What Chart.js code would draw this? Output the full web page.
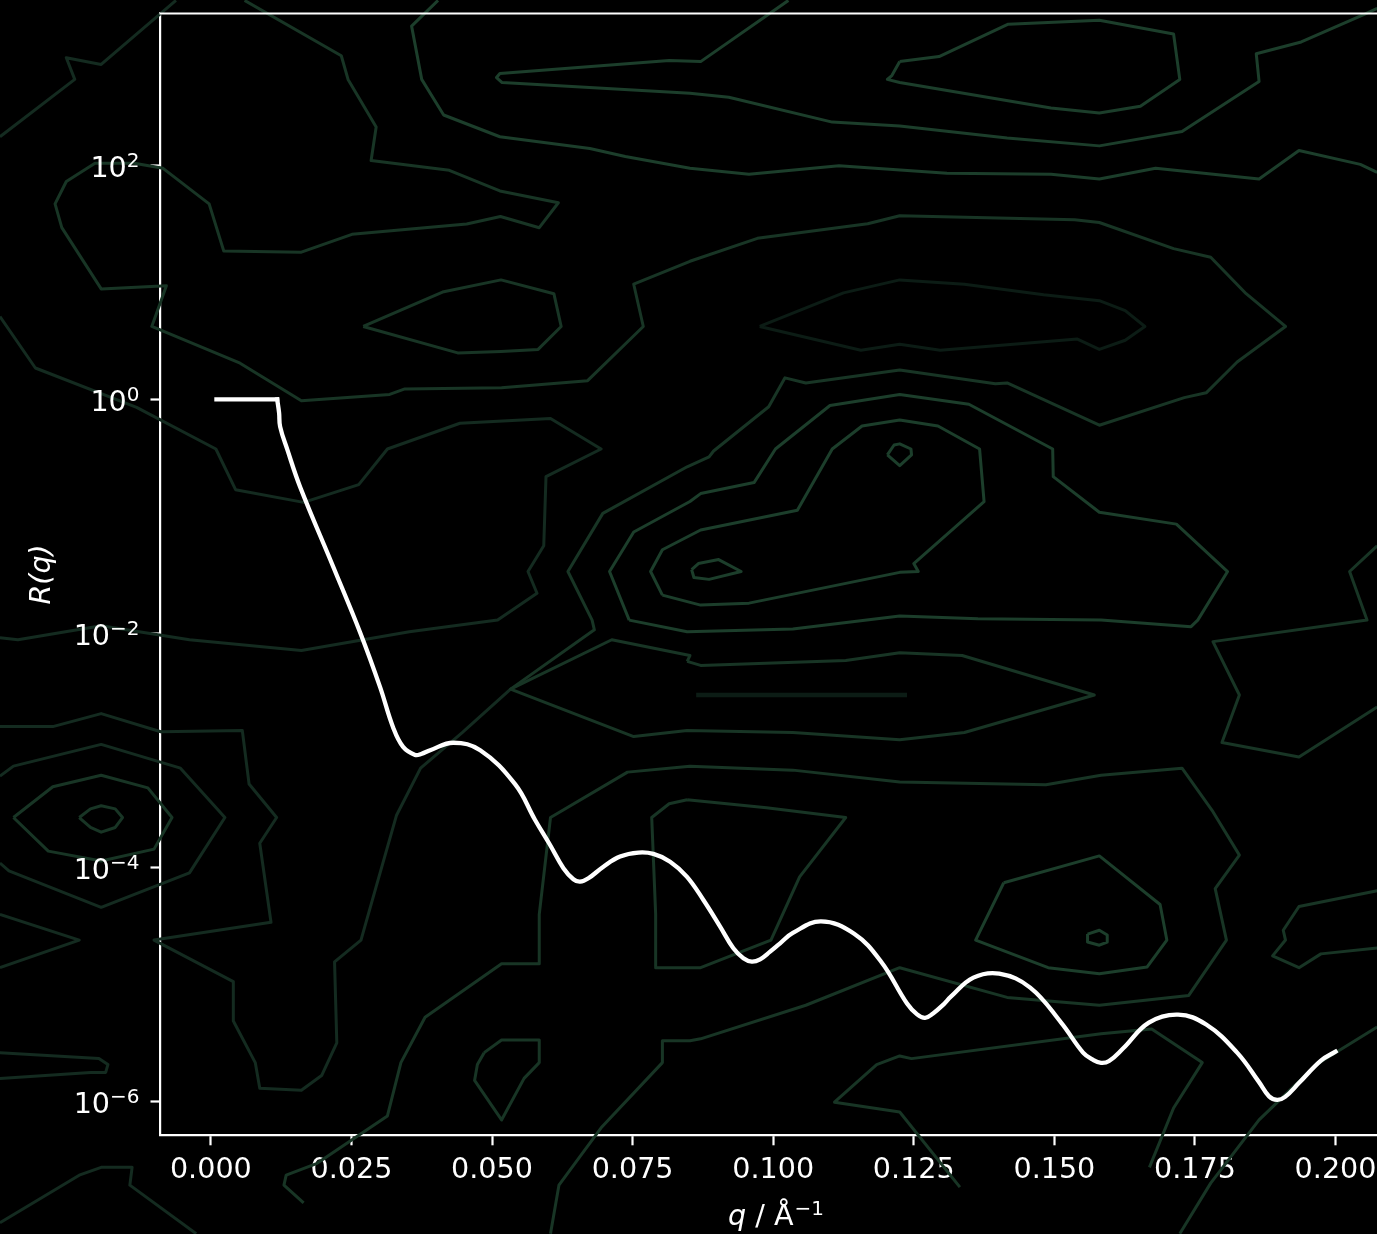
<!DOCTYPE html>
<html>
<head>
<meta charset="utf-8">
<script src="https://cdn.jsdelivr.net/npm/chart.js@4.4.1/dist/chart.umd.min.js"></script>
<style>
  html, body { margin: 0; padding: 0; background: #000; overflow: hidden; }
  canvas { display: block; }
</style>
</head>
<body>
<canvas id="chart" width="1420" height="1234"></canvas>
<script>
// reflectivity curve, q in 1/Å
const qValues = [0.001, 0.004, 0.008, 0.0118, 0.01214, 0.01232, 0.01362, 0.01588,
  0.0218, 0.0266, 0.0301, 0.0324, 0.03419, 0.03633, 0.03740, 0.0390, 0.0431,
  0.0479, 0.0541, 0.05766, 0.06033, 0.06270, 0.06447, 0.06566, 0.06714, 0.06981, 0.07278,
  0.07603, 0.07870, 0.08167, 0.08464, 0.08759, 0.09056, 0.09292, 0.09470, 0.09620, 0.09767,
  0.09945, 0.10123, 0.1035, 0.1085, 0.1144, 0.1192, 0.1238, 0.12559, 0.12701, 0.12843,
  0.13021, 0.13164, 0.1356, 0.1402, 0.1457, 0.1512, 0.1551, 0.15689, 0.15831, 0.15973,
  0.1622, 0.1668, 0.1720, 0.1770, 0.1825, 0.1864, 0.18818, 0.18961, 0.19103, 0.19352,
  0.1974, 0.2000];
const rValues = [1, 1, 1, 1, 0.765, 0.585, 0.370, 0.1786,
  0.0368, 0.01005, 0.00348, 0.00158, 1.072e-3, 9.16e-4, 9.33e-4, 1.005e-3, 1.164e-3,
  1.005e-3, 5.15e-4, 2.547e-4, 1.556e-4, 9.86e-5, 7.94e-5, 7.57e-5, 8.09e-5, 1.016e-4, 1.239e-4,
  1.340e-4, 1.306e-4, 1.122e-4, 8.36e-5, 5.28e-5, 3.13e-5, 2.04e-5, 1.679e-5, 1.570e-5, 1.644e-5,
  1.910e-5, 2.25e-5, 2.76e-5, 3.47e-5, 2.72e-5, 1.567e-5, 6.89e-6, 5.56e-6, 5.19e-6, 5.66e-6,
  6.70e-6, 7.91e-6, 1.146e-5, 1.239e-5, 9.42e-6, 4.73e-6, 2.62e-6, 2.27e-6, 2.14e-6, 2.22e-6,
  2.84e-6, 4.73e-6, 5.53e-6, 4.55e-6, 2.62e-6, 1.466e-6, 1.107e-6, 1.033e-6, 1.096e-6, 1.445e-6,
  2.24e-6, 2.67e-6];
const plateauEnd = 3; // index of the critical edge

const xTicks = [0, 0.025, 0.05, 0.075, 0.1, 0.125, 0.15, 0.175, 0.2];
const yTickExponents = [-6, -4, -2, 0, 2];
const xTitleParts = ["q", " / Å", "−1"];
const yTitle = "R(q)";

// background contour lines, [q, log10 R]
const contourA = [[-0.0375,2.244],[-0.0242,2.734],[-0.0257,2.919],[-0.0195,2.862],[-0.0062,3.409]];
const contourB = [[0.0060,3.409],[0.0232,2.936],[0.0244,2.734],[0.0294,2.328],[0.0285,2.041],[0.0424,1.957],[0.0514,1.781],[0.0618,1.680],[0.0584,1.467],[0.0515,1.562],[0.0455,1.498],[0.0251,1.410],[0.0161,1.258],[0.0023,1.268],[-0.0003,1.670],[-0.0085,1.974],[-0.0136,2.018],[-0.0206,2.018],[-0.0257,1.862],[-0.0277,1.670],[-0.0265,1.467],[-0.0195,0.944],[-0.0079,0.971],[-0.0105,0.623],[0.0052,0.309],[0.0161,-0.012],[0.0318,0.042],[0.0345,0.089],[0.0517,0.100],[0.0670,0.160],[0.0769,0.623],[0.0752,0.984],[0.0852,1.180],[0.0972,1.376],[0.1168,1.501],[0.1225,1.569],[0.1536,1.535],[0.1580,1.511],[0.1712,1.288],[0.1778,1.214],[0.1841,0.903],[0.1911,0.623],[0.1825,0.319],[0.1770,0.056],[0.1731,0.015],[0.1580,-0.221],[0.1416,0.140],[0.1395,0.133],[0.1225,0.251],[0.1058,0.140],[0.1021,0.184],[0.0992,-0.063],[0.0894,-0.441],[0.0886,-0.492],[0.0847,-0.576],[0.0697,-0.974],[0.0635,-1.471],[0.0678,-1.886],[0.0682,-1.969],[0.0533,-2.476]];
const contourWedge = [[0.1027,3.409],[0.0871,2.886],[0.0815,2.896],[0.0514,2.784],[0.0508,2.750],[0.0518,2.707],[0.0852,2.615],[0.0921,2.582],[0.1105,2.369],[0.1225,2.335],[0.1416,2.234],[0.1580,2.166],[0.1727,2.288],[0.1864,2.717],[0.1859,2.953],[0.1939,3.054],[0.2052,3.291],[0.2074,3.341]];
const contourRidge = [[0.0404,3.409],[0.0357,3.189],[0.0375,2.734],[0.0414,2.430],[0.0514,2.244],[0.0674,2.143],[0.0737,2.075],[0.0852,1.974],[0.0957,1.923],[0.1117,1.997],[0.1309,1.933],[0.1494,1.923],[0.1580,1.883],[0.1680,1.974],[0.1864,1.883],[0.1935,2.126],[0.2044,2.008],[0.2074,1.940]];
const contourTopLoop = [[0.1225,2.886],[0.1295,2.929],[0.1418,3.206],[0.1580,3.240],[0.1712,3.122],[0.1723,2.734],[0.1653,2.504],[0.1580,2.447],[0.1494,2.490],[0.1225,2.707],[0.1203,2.734],[0.1211,2.767],[0.1225,2.886]];
const contourLensLeft = [[0.0271,0.623],[0.0412,0.917],[0.0516,1.021],[0.0610,0.903],[0.0623,0.623],[0.0582,0.427],[0.0516,0.410],[0.0439,0.397],[0.0271,0.623]];
const contourLensMid = [[0.0976,0.623],[0.1125,0.910],[0.1225,1.021],[0.1340,0.984],[0.1481,0.893],[0.1580,0.843],[0.1626,0.758],[0.1661,0.623],[0.1626,0.505],[0.1580,0.427],[0.1541,0.515],[0.1297,0.420],[0.1225,0.471],[0.1156,0.420],[0.0976,0.623]];
const contourRing2 = [[0.0744,-1.886],[0.0709,-1.471],[0.0752,-1.133],[0.0852,-0.873],[0.0871,-0.805],[0.0966,-0.711],[0.1004,-0.424],[0.1101,-0.052],[0.1225,0.042],[0.1348,-0.042],[0.1497,-0.424],[0.1498,-0.660],[0.1580,-0.964],[0.1717,-1.066],[0.1808,-1.471],[0.1755,-1.886],[0.1743,-1.942],[0.1583,-1.885],[0.1364,-1.875],[0.1225,-1.851],[0.1035,-1.962],[0.0847,-1.986],[0.0744,-1.886]];
const contourRing3 = [[0.0803,-1.673],[0.0782,-1.471],[0.0803,-1.285],[0.0871,-1.116],[0.1043,-0.947],[0.1105,-0.424],[0.1158,-0.228],[0.1225,-0.177],[0.1293,-0.228],[0.1367,-0.424],[0.1375,-0.873],[0.1250,-1.403],[0.1258,-1.471],[0.1225,-1.478],[0.0957,-1.741],[0.0871,-1.758],[0.0803,-1.673]];
const contourPeakA = [[0.1203,-0.475],[0.1215,-0.390],[0.1225,-0.380],[0.1245,-0.424],[0.1246,-0.475],[0.1225,-0.566],[0.1203,-0.475]];
const contourPeakB = [[0.0855,-1.454],[0.0867,-1.403],[0.0903,-1.369],[0.0943,-1.471],[0.0886,-1.538],[0.0859,-1.522],[0.0855,-1.454]];
const contourRightEdge = [[0.2074,-1.251],[0.2025,-1.471],[0.2056,-1.886],[0.1782,-2.070],[0.1829,-2.526],[0.1798,-2.932],[0.1935,-3.056],[0.2074,-2.628]];
const contourLens2 = [[0.0847,-2.239],[0.0871,-2.273],[0.1129,-2.232],[0.1225,-2.165],[0.1336,-2.189],[0.1571,-2.526],[0.1340,-2.847],[0.1225,-2.908],[0.1035,-2.847],[0.0847,-2.830],[0.0752,-2.881],[0.0533,-2.476],[0.0713,-2.054],[0.0852,-2.189],[0.0847,-2.239]];
const contourThin = [[0.0863,-2.526],[0.1238,-2.526]];
const contourLower = [[-0.0375,0.707],[-0.0312,0.268],[-0.0132,-0.069],[0.0009,-0.424],[0.0044,-0.772],[0.0165,-0.880],[0.0263,-0.728],[0.0314,-0.424],[0.0443,-0.204],[0.0604,-0.164],[0.0694,-0.424],[0.0596,-0.660],[0.0592,-1.251],[0.0564,-1.471],[0.0580,-1.657],[0.0510,-1.886],[0.0353,-1.986],[0.0161,-2.145],[-0.0038,-2.054],[-0.0195,-1.935],[-0.0343,-2.054],[-0.0375,-2.037]];
const contourHexSmall = [[-0.0234,-3.573],[-0.0214,-3.499],[-0.0195,-3.472],[-0.0170,-3.499],[-0.0157,-3.573],[-0.0170,-3.658],[-0.0195,-3.698],[-0.0214,-3.658],[-0.0234,-3.573]];
const contourHex2 = [[-0.0351,-3.573],[-0.0281,-3.310],[-0.0195,-3.212],[-0.0112,-3.320],[-0.0069,-3.573],[-0.0101,-3.843],[-0.0195,-3.945],[-0.0289,-3.860],[-0.0351,-3.573]];
const contourHex3 = [[-0.0375,-3.219],[-0.0351,-3.134],[-0.0195,-2.948],[-0.0054,-3.151],[0.0025,-3.573],[-0.0038,-4.046],[-0.0195,-4.340],[-0.0359,-4.029],[-0.0375,-3.962]];
const contourRing4 = [[-0.0375,-2.796],[-0.0281,-2.796],[-0.0195,-2.685],[-0.0089,-2.840],[0.0056,-2.830],[0.0068,-3.286],[0.0117,-3.573],[0.0087,-3.793],[0.0107,-4.468],[-0.0101,-4.620],[0.0040,-4.975],[0.0040,-5.312],[0.0079,-5.667],[0.0087,-5.886],[0.0161,-5.903],[0.0197,-5.778],[0.0224,-5.498],[0.0220,-4.806],[0.0267,-4.620],[0.0294,-4.164],[0.0330,-3.556],[0.0373,-3.151],[0.0447,-2.847],[0.0533,-2.476]];
const contourWedgeLeft = [[-0.0375,-4.401],[-0.0234,-4.620],[-0.0375,-4.856]];
const contourSliver = [[-0.0375,-5.582],[-0.0199,-5.633],[-0.0183,-5.684],[-0.0187,-5.751],[-0.0214,-5.751],[-0.0375,-5.802]];
const contourCorner = [[-0.0375,-7.035],[-0.0234,-6.629],[-0.0195,-6.562],[-0.0140,-6.562],[-0.0144,-6.714],[-0.0026,-7.129]];
const contourPocket = [[0.0486,-5.582],[0.0517,-5.474],[0.0584,-5.474],[0.0584,-5.667],[0.0557,-5.802],[0.0517,-6.157],[0.0469,-5.819],[0.0474,-5.684],[0.0486,-5.582]];
const contourValley = [[0.0165,-6.866],[0.0130,-6.714],[0.0134,-6.629],[0.0189,-6.528],[0.0314,-6.123],[0.0338,-5.667],[0.0381,-5.279],[0.0517,-4.823],[0.0584,-4.823],[0.0584,-4.401],[0.0604,-3.573],[0.0741,-3.185],[0.0852,-3.134],[0.1035,-3.168],[0.1225,-3.269],[0.1485,-3.293],[0.1583,-3.212],[0.1727,-3.151],[0.1782,-3.523],[0.1829,-3.894],[0.1786,-4.181],[0.1806,-4.620],[0.1739,-5.093],[0.1580,-5.177],[0.1416,-5.110],[0.1225,-4.856],[0.1058,-5.177],[0.0871,-5.464],[0.0852,-5.481],[0.0803,-5.481],[0.0803,-5.667],[0.0694,-6.224],[0.0619,-6.714],[0.0604,-7.129]];
const contourPeak3 = [[0.0847,-3.421],[0.0988,-3.489],[0.1129,-3.573],[0.1047,-4.080],[0.0996,-4.620],[0.0871,-4.856],[0.0791,-4.856],[0.0791,-4.401],[0.0784,-3.573],[0.0815,-3.455],[0.0847,-3.421]];
const contourBasin = [[0.1410,-4.130],[0.1580,-3.901],[0.1688,-4.316],[0.1700,-4.620],[0.1665,-4.850],[0.1580,-4.907],[0.1489,-4.856],[0.1360,-4.620],[0.1410,-4.130]];
const contourDot = [[0.1559,-4.569],[0.1580,-4.536],[0.1594,-4.576],[0.1594,-4.637],[0.1580,-4.664],[0.1559,-4.637],[0.1559,-4.569]];
const contourRightLoop = [[0.2074,-4.198],[0.1935,-4.333],[0.1907,-4.536],[0.1911,-4.620],[0.1888,-4.755],[0.1935,-4.856],[0.1974,-4.738],[0.2074,-4.688]];
const contourFloor = [[0.1332,-6.731],[0.1225,-6.089],[0.1109,-6.005],[0.1184,-5.684],[0.1225,-5.610],[0.1246,-5.633],[0.1583,-5.420],[0.1673,-5.380],[0.1763,-5.667],[0.1712,-6.055],[0.1669,-6.562]];
const contourSlope = [[0.2074,-5.363],[0.1966,-5.684],[0.1864,-6.157],[0.1778,-6.697],[0.1723,-7.129]];

const X_MIN = -0.00895, X_MAX = 0.20995;
const Y_MIN = 5.15e-7, Y_MAX = 1982;

const FONT = "DejaVu Sans";
const FONT_SIZE = 28.6;
const SUP_SIZE = 20;
const GREEN = "#1c3e2b";
const GREEN_MID = "#183525";
const GREEN_DIM = "#142b20";
const GREEN_DARK = "#0c1c15";

const contourStyles = [
  [contourA, GREEN_DIM], [contourB, GREEN_MID], [contourWedge, GREEN], [contourRidge, GREEN],
  [contourTopLoop, GREEN], [contourLensLeft, GREEN_MID], [contourLensMid, GREEN_DARK],
  [contourRing2, GREEN], [contourRing3, GREEN], [contourPeakA, GREEN], [contourPeakB, GREEN],
  [contourRightEdge, GREEN_MID], [contourLens2, GREEN_MID], [contourThin, GREEN_DARK, 4.5],
  [contourLower, GREEN_DIM], [contourHexSmall, GREEN_MID], [contourHex2, GREEN_MID],
  [contourHex3, GREEN_DIM], [contourRing4, GREEN_DIM], [contourWedgeLeft, GREEN_DIM],
  [contourSliver, GREEN_DIM], [contourCorner, GREEN_DIM], [contourPocket, GREEN_MID],
  [contourValley, GREEN_MID], [contourPeak3, GREEN_MID], [contourBasin, GREEN],
  [contourDot, GREEN], [contourRightLoop, GREEN_MID], [contourFloor, GREEN_MID],
  [contourSlope, GREEN_MID]
];

function points(from, to) {
  return qValues.slice(from, to).map(function (q, i) { return { x: q, y: rValues[from + i] }; });
}

// plateau drawn straight, the fringes as a smooth spline
const plateau = {
  data: points(0, plateauEnd + 1),
  borderColor: "#ffffff", borderWidth: 4.3, tension: 0,
  pointRadius: 0, fill: false, borderCapStyle: "square"
};
const fringes = {
  data: points(plateauEnd, qValues.length),
  borderColor: "#ffffff", borderWidth: 4.3, tension: 0.4,
  borderJoinStyle: "round", borderCapStyle: "square", pointRadius: 0, fill: false
};

const contours = contourStyles.map(function (c) {
  return {
    data: c[0].map(function (p) { return { x: p[0], y: Math.pow(10, p[1]) }; }),
    borderColor: c[1],
    borderWidth: c[2] || 3,
    borderJoinStyle: "round",
    tension: 0,
    pointRadius: 0,
    fill: false,
    clip: false
  };
});

function fontStr(size, style) {
  return (style ? style + " " : "") + size + "px '" + FONT + "'";
}

// top spine, y tick labels with real superscripts, x title with italic q
const frame = {
  id: "frame",
  afterDraw: function (chart) {
    const ctx = chart.ctx, a = chart.chartArea;
    ctx.save();
    ctx.strokeStyle = "#ffffff";
    ctx.lineWidth = 2.2;
    ctx.beginPath();
    ctx.moveTo(a.left - 1.1, a.top);
    ctx.lineTo(a.right, a.top);
    ctx.stroke();

    ctx.fillStyle = "#ffffff";
    ctx.textBaseline = "alphabetic";
    ctx.textAlign = "left";

    const ys = chart.scales.y;
    const right = a.left - 21;
    yTickExponents.forEach(function (e) {
      const py = ys.getPixelForValue(Math.pow(10, e));
      const exp = String(e).replace("-", "−");
      ctx.font = fontStr(SUP_SIZE);
      const we = ctx.measureText(exp).width;
      ctx.font = fontStr(FONT_SIZE);
      const wb = ctx.measureText("10").width;
      const base = py + 11.5;
      ctx.fillText("10", right - we - wb, base);
      ctx.font = fontStr(SUP_SIZE);
      ctx.fillText(exp, right - we, base - 10);
    });

    const cx = (a.left + a.right) / 2;
    const base = a.bottom + 90;
    ctx.font = fontStr(FONT_SIZE, "italic"); const w0 = ctx.measureText(xTitleParts[0]).width;
    ctx.font = fontStr(FONT_SIZE); const w1 = ctx.measureText(xTitleParts[1]).width;
    ctx.font = fontStr(SUP_SIZE); const w2 = ctx.measureText(xTitleParts[2]).width;
    let x = cx - (w0 + w1 + w2 + 1) / 2;
    ctx.font = fontStr(FONT_SIZE, "italic"); ctx.fillText(xTitleParts[0], x, base); x += w0;
    ctx.font = fontStr(FONT_SIZE); ctx.fillText(xTitleParts[1], x, base); x += w1 + 1;
    ctx.font = fontStr(SUP_SIZE); ctx.fillText(xTitleParts[2], x, base - 10);
    ctx.restore();
  }
};

new Chart(document.getElementById("chart"), {
  type: "line",
  data: { datasets: [fringes, plateau].concat(contours) },
  options: {
    responsive: false,
    animation: false,
    events: [],
    layout: { padding: { top: 13.5, left: 0, right: 28.5, bottom: 0 } },
    plugins: { legend: { display: false }, tooltip: { enabled: false } },
    scales: {
      x: {
        type: "linear",
        position: "bottom",
        bounds: "data",
        z: 1,
        afterDataLimits: function (s) { s.min = X_MIN; s.max = X_MAX; },
        afterBuildTicks: function (s) { s.ticks = xTicks.map(function (v) { return { value: v }; }); },
        afterFit: function (s) { s.height = 98.7; s.paddingLeft = 0; s.paddingRight = 0; },
        ticks: {
          color: "#ffffff",
          font: { family: FONT, size: FONT_SIZE },
          padding: 8,
          maxRotation: 0,
          autoSkip: false,
          callback: function (v) { return Number(v).toFixed(3); }
        },
        grid: { drawOnChartArea: false, drawTicks: true, tickLength: 10, tickWidth: 2.2, tickColor: "#ffffff" },
        border: { display: true, color: "#ffffff", width: 2.2 }
      },
      y: {
        type: "logarithmic",
        position: "left",
        bounds: "data",
        z: 1,
        afterDataLimits: function (s) { s.min = Y_MIN; s.max = Y_MAX; },
        afterBuildTicks: function (s) { s.ticks = yTickExponents.map(function (e) { return { value: Math.pow(10, e) }; }); },
        afterFit: function (s) { s.width = 160.5; s.paddingTop = 0; s.paddingBottom = 0; },
        ticks: {
          display: true,
          color: "rgba(0,0,0,0)",
          font: { family: FONT, size: FONT_SIZE },
          padding: 10,
          autoSkip: false,
          callback: function () { return ""; }
        },
        title: {
          display: true,
          text: yTitle,
          color: "#ffffff",
          font: { family: FONT, size: FONT_SIZE, style: "italic" },
          padding: { top: 25, bottom: 0 }
        },
        grid: { drawOnChartArea: false, drawTicks: true, tickLength: 10, tickWidth: 2.2, tickColor: "#ffffff" },
        border: { display: true, color: "#ffffff", width: 2.2 }
      }
    }
  },
  plugins: [frame]
});
</script>
</body>
</html>
